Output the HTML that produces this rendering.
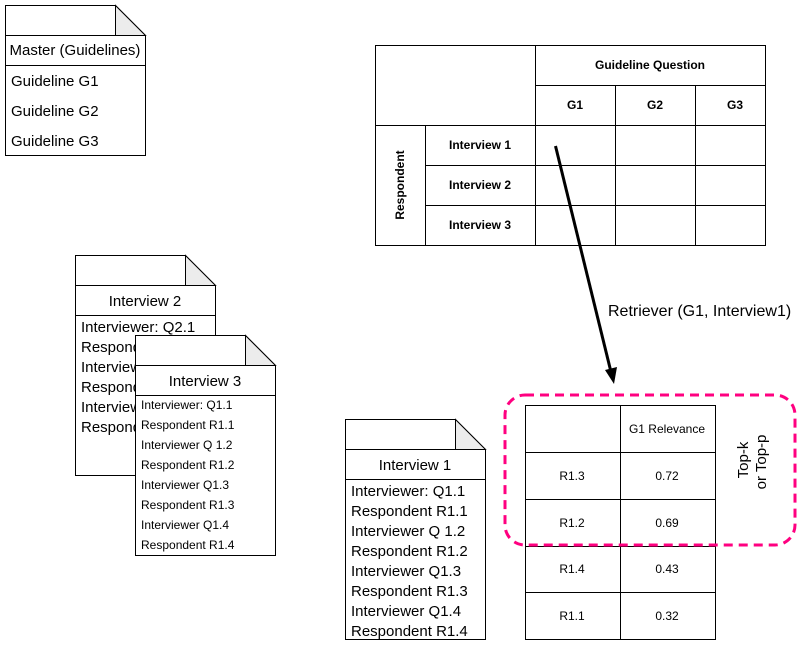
<!DOCTYPE html>
<html><head><meta charset="utf-8"><style>
html,body{margin:0;padding:0;background:#fff}
svg{display:block;font-family:"Liberation Sans",Arial,sans-serif}
</style></head><body>
<svg width="802" height="645" viewBox="0 0 802 645" xmlns="http://www.w3.org/2000/svg">
<g stroke="#000" stroke-width="1" fill="#fff">
<!-- Master -->
<path d="M5.5 5.5H115.5L145.5 35.5V155.5H5.5Z"/>
<path d="M115.5 5.5V35.5H145.5Z" fill="#ececec"/>
<path d="M5.5 35.5H145.5M5.5 65.5H145.5"/>
<!-- Interview 2 -->
<path d="M75.5 255.5H185.5L215.5 285.5V475.5H75.5Z"/>
<path d="M185.5 255.5V285.5H215.5Z" fill="#ececec"/>
<path d="M75.5 285.5H215.5M75.5 315.5H215.5"/>
</g>
<g font-size="15" fill="#000">
<text x="75" y="55" text-anchor="middle">Master (Guidelines)</text>
<text x="11" y="86">Guideline G1</text>
<text x="11" y="116">Guideline G2</text>
<text x="11" y="146">Guideline G3</text>
<text x="145" y="306" text-anchor="middle">Interview 2</text>
<text x="81" y="332">Interviewer: Q2.1</text>
<text x="81" y="352">Respondent</text>
<text x="81" y="372">Interviewer</text>
<text x="81" y="392">Respondent</text>
<text x="81" y="412">Interviewer</text>
<text x="81" y="432">Respondent</text>
</g>
<g stroke="#000" stroke-width="1" fill="#fff">
<path d="M135.5 335.5H245.5L275.5 365.5V555.5H135.5Z"/>
<path d="M245.5 335.5V365.5H275.5Z" fill="#ececec"/>
<path d="M135.5 365.5H275.5M135.5 395.5H275.5"/>
<path d="M345.5 419.5H455.5L485.5 449.5V639.5H345.5Z"/>
<path d="M455.5 419.5V449.5H485.5Z" fill="#ececec"/>
<path d="M345.5 449.5H485.5M345.5 479.5H485.5"/>
</g>
<g font-size="15" fill="#000">
<text x="205" y="386" text-anchor="middle">Interview 3</text>
<text x="415" y="470" text-anchor="middle">Interview 1</text>
<text x="351" y="496">Interviewer: Q1.1</text>
<text x="351" y="516">Respondent R1.1</text>
<text x="351" y="536">Interviewer Q 1.2</text>
<text x="351" y="556">Respondent R1.2</text>
<text x="351" y="576">Interviewer Q1.3</text>
<text x="351" y="596">Respondent R1.3</text>
<text x="351" y="616">Interviewer Q1.4</text>
<text x="351" y="636">Respondent R1.4</text>
</g>
<g font-size="12" fill="#000">
<text x="141" y="409">Interviewer: Q1.1</text>
<text x="141" y="429">Respondent R1.1</text>
<text x="141" y="449">Interviewer Q 1.2</text>
<text x="141" y="469">Respondent R1.2</text>
<text x="141" y="489">Interviewer Q1.3</text>
<text x="141" y="509">Respondent R1.3</text>
<text x="141" y="529">Interviewer Q1.4</text>
<text x="141" y="549">Respondent R1.4</text>
</g>
<!-- grid -->
<g stroke="#000" stroke-width="1" fill="none">
<rect x="375.5" y="45.5" width="390" height="200"/>
<path d="M535.5 45.5V245.5M535.5 85.5H765.5M375.5 125.5H765.5M615.5 85.5V245.5M695.5 85.5V245.5M425.5 125.5V245.5M425.5 165.5H765.5M425.5 205.5H765.5"/>
</g>
<g font-size="12" font-weight="bold" fill="#000" text-anchor="middle">
<text x="650" y="69">Guideline Question</text>
<text x="575" y="109">G1</text>
<text x="655" y="109">G2</text>
<text x="735" y="109">G3</text>
<text x="480" y="149">Interview 1</text>
<text x="480" y="189">Interview 2</text>
<text x="480" y="229">Interview 3</text>
<text transform="translate(404,185) rotate(-90)">Respondent</text>
</g>
<!-- arrow -->
<line x1="555.5" y1="146" x2="611" y2="372" stroke="#000" stroke-width="3"/>
<path d="M614 384 L605 370 L617 367 Z" fill="#000"/>
<text x="608" y="316" font-size="16">Retriever (G1, Interview1)</text>
<!-- relevance table -->
<g stroke="#000" stroke-width="1" fill="none">
<rect x="525.5" y="405.5" width="190" height="234"/>
<path d="M620.5 405.5V639.5M525.5 452.5H715.5M525.5 499.5H715.5M525.5 546.5H715.5M525.5 592.5H715.5"/>
</g>
<g font-size="12" fill="#000" text-anchor="middle">
<text x="667" y="433">G1 Relevance</text>
<text x="572" y="480">R1.3</text><text x="667" y="480">0.72</text>
<text x="572" y="527">R1.2</text><text x="667" y="527">0.69</text>
<text x="572" y="573">R1.4</text><text x="667" y="573">0.43</text>
<text x="572" y="620">R1.1</text><text x="667" y="620">0.32</text>
</g>
<rect x="505" y="395" width="290" height="150" rx="20" fill="none" stroke="#ff0080" stroke-width="3" stroke-dasharray="9,6"/>
<g font-size="15" fill="#000" text-anchor="middle">
<text transform="translate(748,460) rotate(-90)">Top-k</text>
<text transform="translate(766,462) rotate(-90)">or Top-p</text>
</g>
</svg>
</body></html>
